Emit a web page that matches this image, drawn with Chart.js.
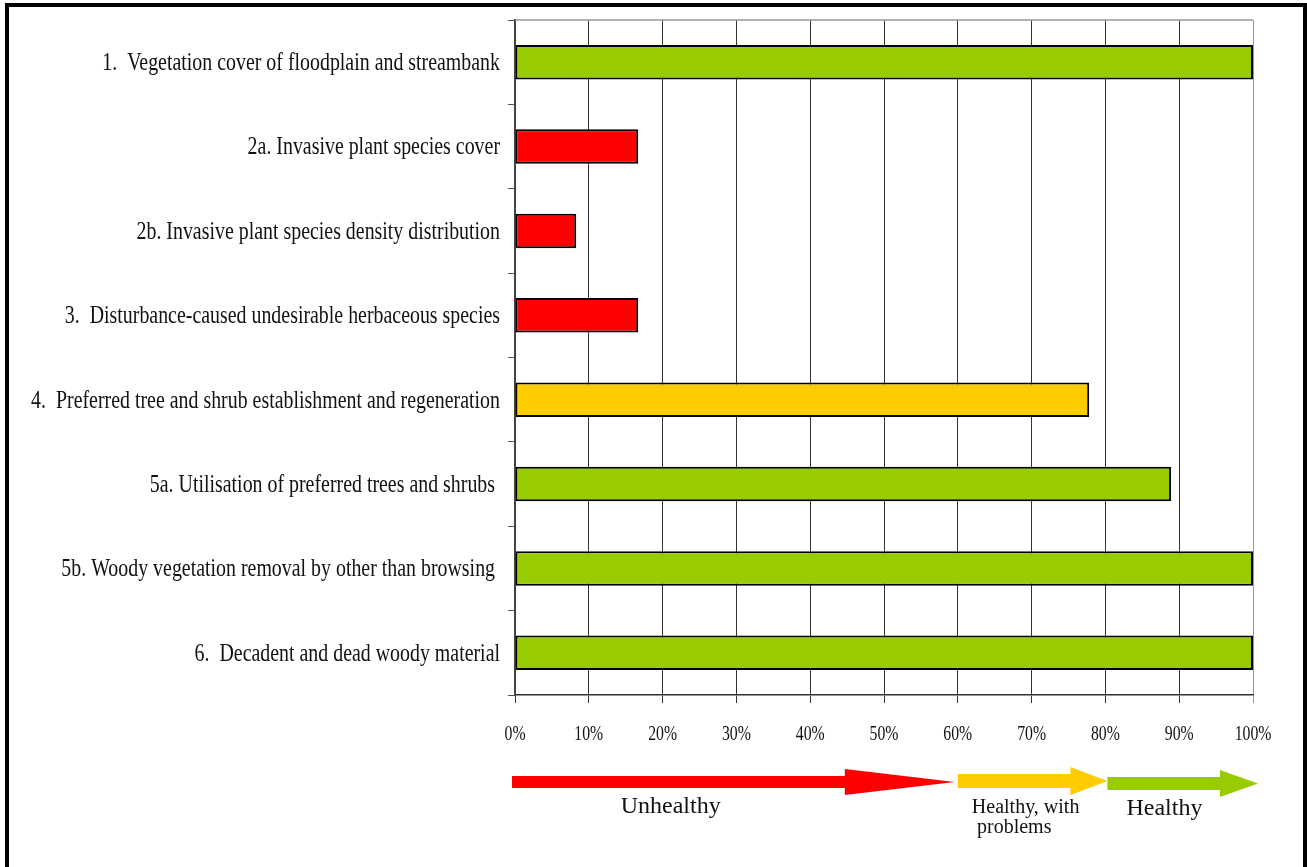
<!DOCTYPE html>
<html>
<head>
<meta charset="utf-8">
<script src="https://cdn.jsdelivr.net/npm/chart.js@4"></script>
<style>
    html, body { margin: 0; padding: 0; background: #fff; }
    #wrap { position: relative; width: 1307px; height: 867px; overflow: hidden; }
    #frame {
        position: absolute; left: 5px; top: 3px; width: 1302px; height: 880px;
        box-sizing: border-box; border: 4px solid #000; border-bottom: none;
        pointer-events: none;
    }
</style>
</head>
<body>
<div id="wrap">
    <canvas id="chart" width="1307" height="867"></canvas>
    <div id="frame"></div>
</div>
<script>
const categories = [
    '1.  Vegetation cover of floodplain and streambank',
    '2a. Invasive plant species cover',
    '2b. Invasive plant species density distribution',
    '3.  Disturbance-caused undesirable herbaceous species',
    '4.  Preferred tree and shrub establishment and regeneration',
    '5a. Utilisation of preferred trees and shrubs ',
    '5b. Woody vegetation removal by other than browsing ',
    '6.  Decadent and dead woody material'
];
const scores = [100, 16.7, 8.3, 16.7, 77.8, 88.9, 100, 100];
const xTicks = [0, 10, 20, 30, 40, 50, 60, 70, 80, 90, 100];

// health classes shown by the arrows under the axis
const bandNames = ['Unhealthy', 'Healthy, with', 'Healthy'];
const bandStarts = [0, 60, 80];
const bandEnds = [60, 80, 100];
const bandColors = ['#FF0000', '#FFCC00', '#99CC00'];

function colorFor(v) {
    for (let i = bandStarts.length - 1; i >= 0; i--) {
        if (v >= bandStarts[i]) return bandColors[i];
    }
    return bandColors[0];
}

const serif = '"Liberation Serif", "Times New Roman", serif';

const extras = {
    id: 'extras',
    afterDraw(chart) {
        const ctx = chart.ctx;
        const xs = chart.scales.x;
        const ys = chart.scales.y;
        const area = chart.chartArea;

        // top edge of the plot
        ctx.save();
        ctx.strokeStyle = '#999';
        ctx.lineWidth = 1.5;
        ctx.beginPath();
        ctx.moveTo(area.left, area.top);
        ctx.lineTo(area.right, area.top);
        ctx.stroke();
        ctx.restore();

        // category labels (condensed serif)
        ctx.save();
        ctx.fillStyle = '#111';
        ctx.font = '26px ' + serif;
        ctx.textAlign = 'right';
        ctx.textBaseline = 'middle';
        categories.forEach((c, i) => {
            const y = ys.getPixelForValue(i);
            ctx.save();
            ctx.translate(area.left - 15, y + 1);
            ctx.scale(0.765, 1);
            ctx.fillText(c, 0, 0);
            ctx.restore();
        });
        ctx.restore();

        // x tick labels
        ctx.save();
        ctx.fillStyle = '#111';
        ctx.font = '21px ' + serif;
        ctx.textAlign = 'center';
        ctx.textBaseline = 'alphabetic';
        xTicks.forEach(v => {
            ctx.save();
            ctx.translate(xs.getPixelForValue(v), 740);
            ctx.scale(0.75, 1);
            ctx.fillText(v + '%', 0, 0);
            ctx.restore();
        });
        ctx.restore();

        // arrows
        const headLen = [110, 37, 38];
        const shaftHalf = [6, 7, 6.5];
        const headHalf = [13, 14, 13.5];
        const midY = [782, 781, 783.5];
        const startOff = [-3, 0, 2];
        const tipOff = [-3, 2, 5];
        bandNames.forEach((n, i) => {
            const x0 = xs.getPixelForValue(bandStarts[i]) + startOff[i];
            const x1 = xs.getPixelForValue(bandEnds[i]) + tipOff[i];
            const hb = x1 - headLen[i];
            const cy = midY[i];
            ctx.save();
            ctx.fillStyle = bandColors[i];
            ctx.beginPath();
            ctx.moveTo(x0, cy - shaftHalf[i]);
            ctx.lineTo(hb, cy - shaftHalf[i]);
            ctx.lineTo(hb, cy - headHalf[i]);
            ctx.lineTo(x1, cy);
            ctx.lineTo(hb, cy + headHalf[i]);
            ctx.lineTo(hb, cy + shaftHalf[i]);
            ctx.lineTo(x0, cy + shaftHalf[i]);
            ctx.closePath();
            ctx.fill();
            ctx.restore();
        });

        // arrow captions
        ctx.save();
        ctx.fillStyle = '#111';
        ctx.textBaseline = 'alphabetic';
        ctx.font = '24px ' + serif;
        ctx.textAlign = 'center';
        ctx.fillText(bandNames[0], xs.getPixelForValue(21.1), 813);
        ctx.fillText(bandNames[2], xs.getPixelForValue(88), 815);
        ctx.font = '20px ' + serif;
        ctx.textAlign = 'left';
        ctx.fillText(bandNames[1], xs.getPixelForValue(61.9), 813);
        ctx.fillText('problems', xs.getPixelForValue(62.6), 833);
        ctx.restore();
    }
};

new Chart(document.getElementById('chart'), {
    type: 'bar',
    data: {
        labels: categories,
        datasets: [{
            data: scores,
            backgroundColor: scores.map(colorFor),
            borderColor: '#000',
            borderWidth: 2,
            borderSkipped: false,
            categoryPercentage: 1,
            barPercentage: 0.41
        }]
    },
    options: {
        indexAxis: 'y',
        responsive: false,
        animation: false,
        layout: { padding: { top: 20, right: 54, left: 0, bottom: 0 } },
        plugins: {
            legend: { display: false },
            tooltip: { enabled: false }
        },
        scales: {
            x: {
                min: 0,
                max: 100,
                afterFit: s => { s.height = 172; },
                afterBuildTicks: s => { s.ticks = xTicks.map(v => ({ value: v })); },
                ticks: { display: false },
                grid: {
                    color: ctx => (ctx.tick && ctx.tick.value === 100) ? '#999' : '#333',
                    lineWidth: 1,
                    tickLength: 8
                },
                border: { color: '#333', width: 1.5 }
            },
            y: {
                afterFit: s => { s.width = 515; },
                ticks: { display: false },
                grid: {
                    offset: true,
                    drawOnChartArea: false,
                    color: '#555',
                    tickLength: 7
                },
                border: { color: '#444', width: 2 }
            }
        }
    },
    plugins: [extras]
});
</script>
</body>
</html>
